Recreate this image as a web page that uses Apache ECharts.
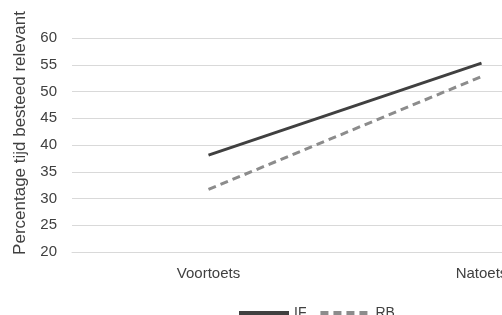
<!DOCTYPE html>
<html><head><meta charset="utf-8">
<script src="https://cdn.jsdelivr.net/npm/echarts@6/dist/echarts.min.js"></script>
<style>html,body{margin:0;padding:0;background:#fff}#c{width:502px;height:315px}</style>
</head><body><div id="c"></div>
<script>
const categories = ['Voortoets', 'Natoets'];
const seriesIF = [38.1, 55.3];
const seriesRB = [31.7, 52.8];
const yTicks = {min: 20, max: 60, interval: 5};
const yTitle = 'Percentage tijd besteed relevant';

const chart = echarts.init(document.getElementById('c'), null, {renderer: 'canvas'});
const font = 'Liberation Sans, Arial, sans-serif';
chart.setOption({
  animation: false,
  textStyle: {fontFamily: font},
  grid: {left: 72, top: 38, height: 214, right: -116, containLabel: false, outerBoundsMode: 'none'},
  legend: {
    top: 306, left: 237, padding: 0, itemGap: 12, itemWidth: 50, itemHeight: 12,
    itemStyle: {opacity: 0},
    lineStyle: {width: 4},
    textStyle: {fontSize: 14, color: '#404040', fontFamily: font},
    data: ['IF', 'RB']
  },
  xAxis: {
    type: 'category', data: categories, boundaryGap: true,
    axisLine: {lineStyle: {color: '#d9d9d9'}}, axisTick: {show: false},
    axisLabel: {fontSize: 15, color: '#404040', margin: 14}
  },
  yAxis: {
    type: 'value', min: yTicks.min, max: yTicks.max, interval: yTicks.interval,
    name: yTitle, nameLocation: 'middle', nameGap: 43,
    nameTextStyle: {fontSize: 17, color: '#404040', padding: [0, 0, 0, 24]},
    axisLine: {show: false}, axisTick: {show: false},
    axisLabel: {fontSize: 15, color: '#404040', margin: 15},
    splitLine: {lineStyle: {color: '#d9d9d9', width: 1}}
  },
  series: [
    {name: 'IF', type: 'line', data: seriesIF, symbol: 'none',
     lineStyle: {color: '#404040', width: 3}, itemStyle: {color: '#404040'}},
    {name: 'RB', type: 'line', data: seriesRB, symbol: 'none',
     lineStyle: {color: '#8c8c8c', width: 3, type: [8, 5]}, itemStyle: {color: '#8c8c8c'}}
  ]
});
</script></body></html>
